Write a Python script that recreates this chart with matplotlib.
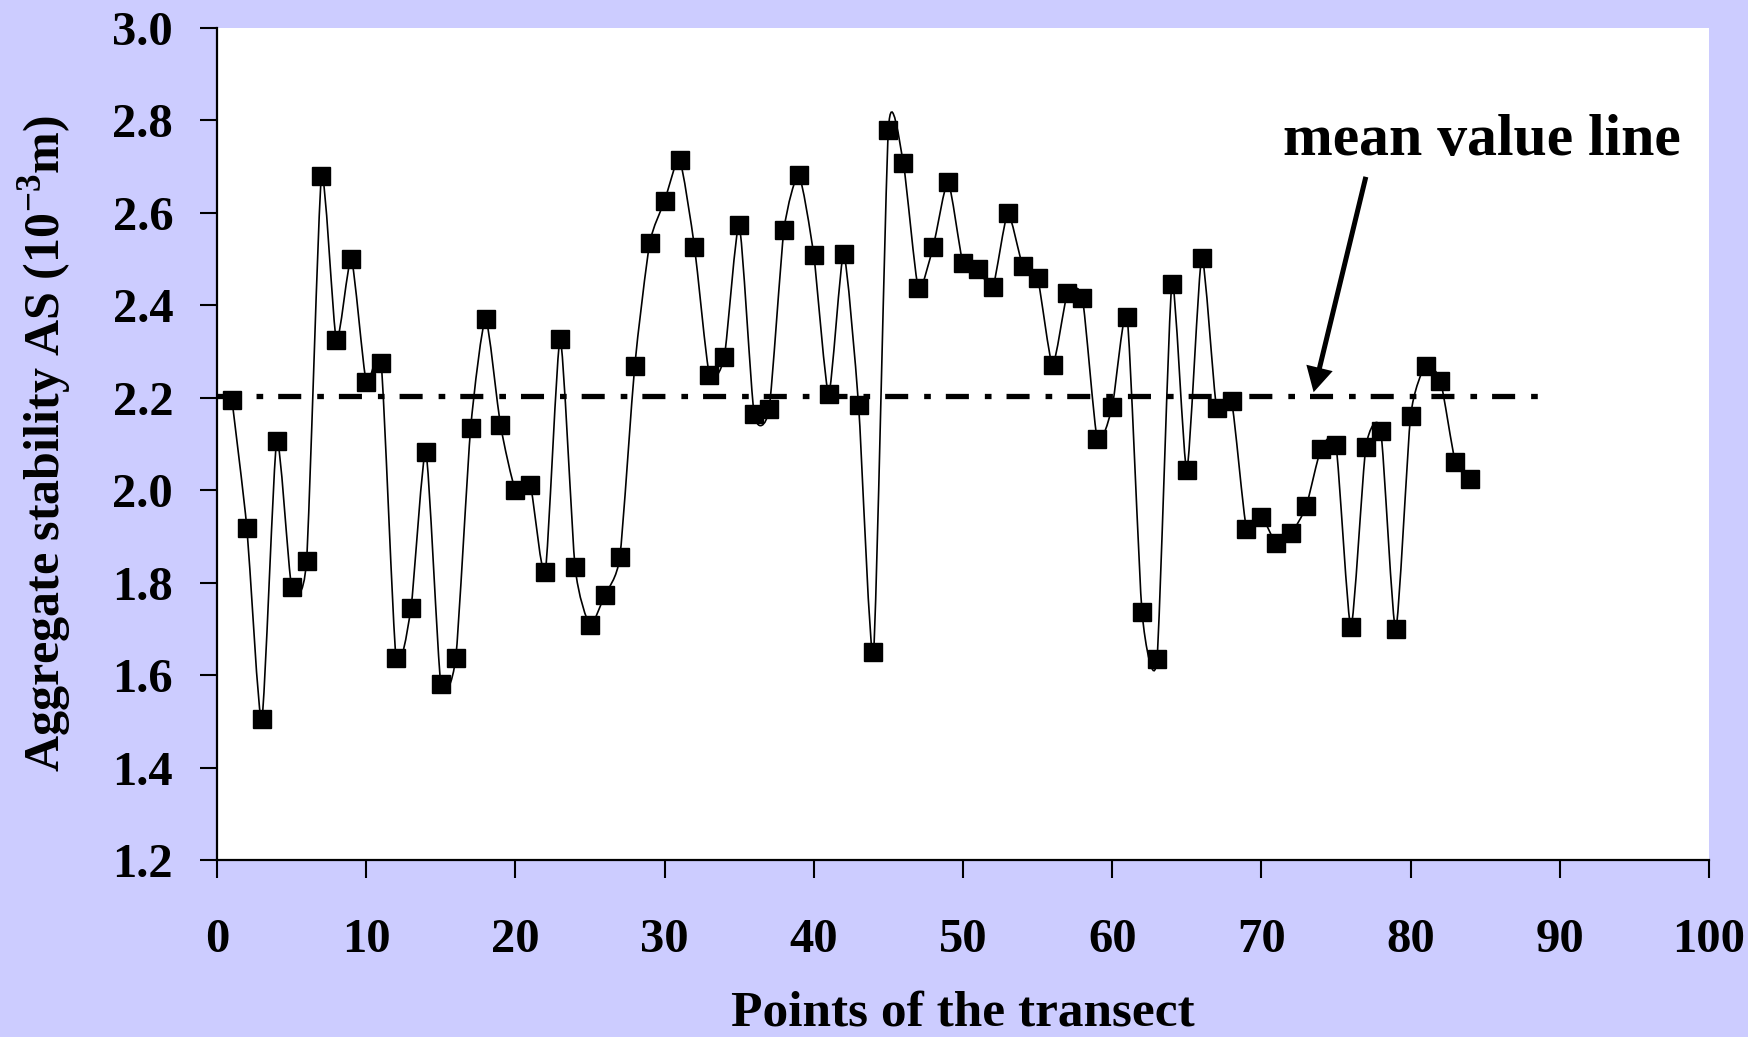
import numpy as np
import matplotlib
matplotlib.use('Agg')
import matplotlib.pyplot as plt
from matplotlib.path import Path
from matplotlib.patches import PathPatch

# data
points = list(range(1, 85))
stability = [
    2.196, 1.919, 1.504, 2.107, 1.791, 1.847, 2.679, 2.324, 2.500, 2.235,
    2.276, 1.637, 1.745, 2.083, 1.581, 1.637, 2.134, 2.370, 2.141, 2.001,
    2.011, 1.822, 2.327, 1.834, 1.709, 1.774, 1.856, 2.269, 2.534, 2.626,
    2.715, 2.527, 2.250, 2.288, 2.573, 2.165, 2.175, 2.563, 2.681, 2.508,
    2.209, 2.510, 2.184, 1.649, 2.780, 2.708, 2.438, 2.527, 2.667, 2.491,
    2.479, 2.440, 2.599, 2.486, 2.459, 2.271, 2.426, 2.416, 2.110, 2.180,
    2.375, 1.736, 1.634, 2.447, 2.044, 2.503, 2.177, 2.192, 1.917, 1.943,
    1.885, 1.907, 1.965, 2.090, 2.097, 1.704, 2.093, 2.129, 1.699, 2.160,
    2.269, 2.237, 2.061, 2.025,
]
mean_x = [0, 89]
mean_value = 2.203

x_ticks = list(range(0, 101, 10))
y_ticks = [1.2, 1.4, 1.6, 1.8, 2.0, 2.2, 2.4, 2.6, 2.8, 3.0]

plt.rcParams['font.family'] = ['Liberation Serif', 'DejaVu Serif']
plt.rcParams['font.weight'] = 'bold'
plt.rcParams['mathtext.fontset'] = 'custom'
plt.rcParams['mathtext.rm'] = 'Liberation Serif:bold'
plt.rcParams['mathtext.bf'] = 'Liberation Serif:bold'
plt.rcParams['lines.scale_dashes'] = False

bg = '#ccccff'
fig = plt.figure(figsize=(17.49, 10.37), dpi=100, facecolor=bg)
ax = fig.add_axes([217 / 1749, 1 - 860 / 1037, 1492 / 1749, 832 / 1037])
ax.set_facecolor('white')


def smooth_path(xs, ys, k=0.1):
    # smoothed line like excel: catmull-rom style cubic beziers
    pts = np.column_stack([xs, ys]).astype(float)
    n = len(pts)
    verts = [pts[0]]
    codes = [Path.MOVETO]
    for i in range(n - 1):
        p0 = pts[i - 1] if i > 0 else pts[i]
        p1 = pts[i]
        p2 = pts[i + 1]
        p3 = pts[i + 2] if i + 2 < n else pts[i + 1]
        c1 = p1 + (p2 - p0) * k
        c2 = p2 - (p3 - p1) * k
        verts += [c1, c2, p2]
        codes += [Path.CURVE4] * 3
    return Path(verts, codes)


ax.add_patch(PathPatch(smooth_path(points, stability), facecolor='none',
                       edgecolor='black', lw=1.2, zorder=3))
ax.plot(points, stability, 's', color='black', ms=13, zorder=4)

# mean value line
ax.plot(mean_x, [mean_value, mean_value], color='black', lw=3.8,
        dashes=(16.6, 11.5, 4.8, 10.8), solid_capstyle='butt', zorder=2)

ax.annotate('', xy=(73.5, 2.212), xytext=(77.0, 2.678),
            arrowprops=dict(facecolor='black', edgecolor='black', width=3.6,
                            headwidth=19.5, headlength=18, linewidth=0, shrink=0))
ax.text(84.8, 2.725, 'mean value line', fontsize=43, fontweight='bold',
        ha='center', va='baseline')

ax.set_xlim(0, 100)
ax.set_ylim(1.2, 3.0)
ax.set_xticks(x_ticks)
ax.set_yticks(y_ticks)
ax.set_yticklabels(['%.1f' % v for v in y_ticks])

for side in ['top', 'right']:
    ax.spines[side].set_visible(False)
for side in ['left', 'bottom']:
    ax.spines[side].set_linewidth(1.6)

ax.tick_params(axis='y', direction='out', length=12.5, width=1.5, pad=19,
               labelsize=35)
ax.tick_params(axis='x', direction='out', length=13, width=1.5, pad=29,
               labelsize=35)

ax.set_xlabel('Points of the transect', fontsize=37, fontweight='bold')
ax.xaxis.set_label_coords(0.5, -0.199)
ax.xaxis.label.set_va('baseline')

ax.set_ylabel(r'Aggregate stability AS (10$^{\mathbf{-3}}$m)', fontsize=36,
              fontweight='bold')
ax.yaxis.set_label_coords(-0.096, 0.5)

fig.savefig('out.png', dpi=100, facecolor=bg)
